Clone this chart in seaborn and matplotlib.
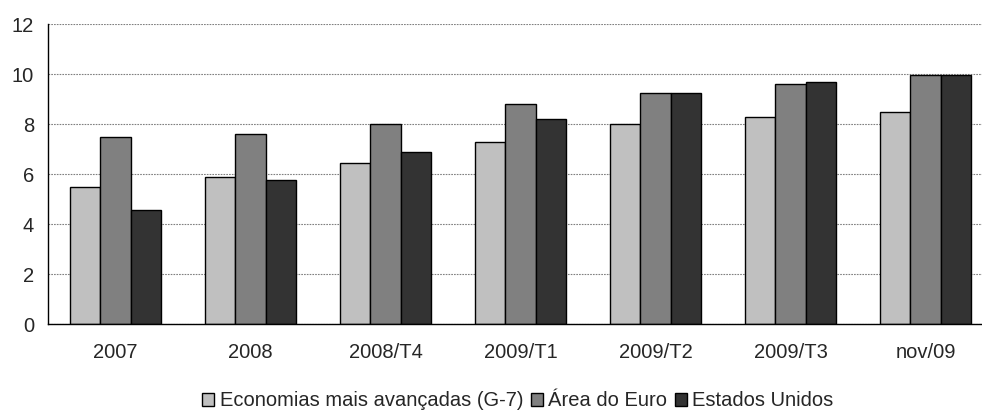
import numpy as np
import pandas as pd
import matplotlib
matplotlib.use("Agg")
import matplotlib.pyplot as plt
import seaborn as sns

# Data
periods = ["2007", "2008", "2008/T4", "2009/T1", "2009/T2", "2009/T3", "nov/09"]
g7 = [5.5, 5.9, 6.45, 7.3, 8.0, 8.3, 8.5]
euro = [7.5, 7.6, 8.0, 8.8, 9.25, 9.6, 9.95]
usa = [4.55, 5.75, 6.9, 8.2, 9.25, 9.7, 9.95]
series_names = ["Economias mais avançadas (G-7)", "Área do Euro", "Estados Unidos"]

df = pd.DataFrame({"periodo": periods, series_names[0]: g7,
                   series_names[1]: euro, series_names[2]: usa})
long_df = df.melt(id_vars="periodo", var_name="serie", value_name="valor")

sns.set_style("white")
plt.rcParams["font.family"] = ["Liberation Sans", "DejaVu Sans"]
FS = 14.5

fig = plt.figure(figsize=(9.82, 4.18), dpi=100)
ax = fig.add_axes([48 / 982, (418 - 324) / 418, 945 / 982, 300 / 418])

sns.barplot(
    data=long_df, x="periodo", y="valor", hue="serie", ax=ax,
    palette=["#C0C0C0", "#808080", "#333333"], width=0.68, gap=0,
    edgecolor="black", linewidth=1.0, saturation=1, errorbar=None,
)

ax.set_xlim(-0.5, len(periods) - 0.5)
ax.set_ylim(0, 12)
ax.set_yticks(np.arange(0, 13, 2))
ax.yaxis.grid(True, color="#808080", linestyle=(0, (1.5, 1)), linewidth=0.8)
ax.set_axisbelow(True)

# category boundaries as major ticks, labels on minor ticks at the centres
ax.set_xticks(np.arange(-0.5, len(periods), 1.0))
ax.set_xticklabels([])
ax.set_xticks(np.arange(len(periods)), minor=True)
ax.set_xticklabels(periods, minor=True)
ax.tick_params(axis="x", which="major", direction="out", length=5, width=1, color="black")
ax.tick_params(axis="x", which="minor", length=0, pad=14, labelsize=FS)
ax.tick_params(axis="y", direction="out", length=4, width=1, color="black", pad=6, labelsize=FS)

for side in ["top", "right"]:
    ax.spines[side].set_visible(False)
for side in ["left", "bottom"]:
    ax.spines[side].set_color("black")
    ax.spines[side].set_linewidth(1.0)

ax.set_xlabel("")
ax.set_ylabel("")

handles, labels = ax.get_legend_handles_labels()
ax.get_legend().remove()
fig.legend(handles, labels, loc="center", bbox_to_anchor=(518 / 982, 1 - 401 / 418),
           ncol=3, frameon=False, fontsize=FS, handlelength=0.6, handleheight=0.6,
           handletextpad=0.25, columnspacing=0.4)

fig.savefig("out.png", dpi=100)
